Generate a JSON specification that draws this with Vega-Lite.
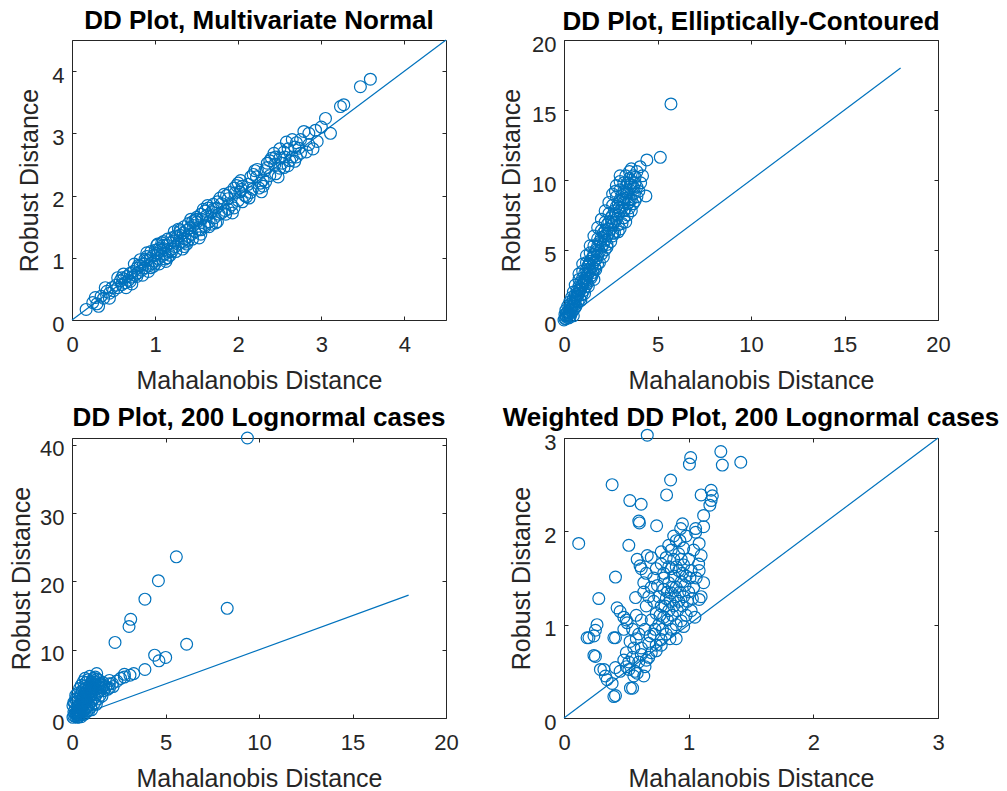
{
"$schema": "https://vega.github.io/schema/vega-lite/v6.json",
"background": "white",
"padding": {"left": 8, "top": 7, "right": 0, "bottom": 0},
"config": {
 "view": {"stroke": "#262626", "strokeWidth": 1},
 "font": "Liberation Sans",
 "axis": {"grid": false, "domain": false, "tickSize": -4, "tickColor": "#262626", "tickWidth": 1,
   "labelFont": "Liberation Sans", "labelFontSize": 22, "labelColor": "#262626", "labelFlush": false, "labelOverlap": false,
   "titleFont": "Liberation Sans", "titleFontSize": 25, "titleFontWeight": "normal", "titleColor": "#262626"},
 "axisBottom": {"labelPadding": 35, "labelBaseline": "alphabetic", "titleY": 68, "titleBaseline": "alphabetic"},
 "axisLeft": {"labelPadding": 12, "labelOffset": 4, "titleBaseline": "alphabetic", "titleAngle": -90},
 "title": {"fontSize": 26, "fontWeight": "bold", "color": "#000000", "font": "Liberation Sans", "frame": "group", "baseline": "alphabetic", "anchor": "middle"}
},
"datasets": {
 "p1": [
  {"x":0.17,"y":0.17},{"x":0.25,"y":0.28},{"x":0.3,"y":0.26},{"x":0.35,"y":0.38},{"x":0.38,"y":0.35},{"x":0.42,"y":0.46},{"x":0.45,"y":0.43},{"x":0.48,"y":0.52},{"x":0.5,"y":0.47},{"x":0.53,"y":0.56},{"x":0.55,"y":0.52},{"x":0.58,"y":0.63},{"x":0.6,"y":0.57},{"x":0.62,"y":0.66},{"x":0.64,"y":0.6},{"x":0.66,"y":0.7},{"x":0.68,"y":0.64},{"x":0.7,"y":0.75},{"x":0.72,"y":0.69},{"x":0.74,"y":0.78},{"x":0.76,"y":0.72},{"x":0.78,"y":0.83},{"x":0.8,"y":0.76},{"x":0.82,"y":0.87},{"x":0.84,"y":0.8},{"x":0.86,"y":0.9},{"x":0.88,"y":0.84},{"x":0.9,"y":0.96},{"x":0.92,"y":0.87},{"x":0.94,"y":0.99},{"x":0.96,"y":0.91},{"x":0.98,"y":1.04},{"x":1.0,"y":0.95},{"x":1.02,"y":1.07},{"x":1.04,"y":0.99},{"x":1.06,"y":1.12},{"x":1.08,"y":1.03},{"x":1.1,"y":1.15},{"x":1.12,"y":1.06},{"x":1.14,"y":1.2},{"x":1.16,"y":1.1},{"x":1.18,"y":1.24},{"x":1.2,"y":1.14},{"x":1.22,"y":1.27},{"x":1.24,"y":1.18},{"x":1.26,"y":1.32},{"x":1.28,"y":1.22},{"x":1.3,"y":1.36},{"x":1.32,"y":1.26},{"x":1.34,"y":1.4},{"x":1.36,"y":1.3},{"x":1.38,"y":1.44},{"x":1.4,"y":1.34},{"x":1.42,"y":1.48},{"x":1.44,"y":1.38},{"x":1.46,"y":1.52},{"x":1.48,"y":1.42},{"x":1.5,"y":1.57},{"x":1.53,"y":1.46},{"x":1.56,"y":1.62},{"x":1.59,"y":1.52},{"x":1.62,"y":1.68},{"x":1.65,"y":1.58},{"x":1.68,"y":1.74},{"x":1.71,"y":1.64},{"x":1.74,"y":1.8},{"x":1.77,"y":1.7},{"x":1.8,"y":1.87},{"x":1.84,"y":1.76},{"x":1.88,"y":1.95},{"x":1.92,"y":1.85},{"x":1.96,"y":2.04},{"x":2.0,"y":1.92},{"x":2.04,"y":2.1},{"x":2.08,"y":2.0},{"x":2.12,"y":2.18},{"x":2.17,"y":2.1},{"x":2.22,"y":2.3},{"x":2.27,"y":2.2},{"x":2.32,"y":2.4},{"x":2.38,"y":2.32},{"x":2.44,"y":2.5},{"x":2.5,"y":2.44},{"x":2.56,"y":2.62},{"x":2.62,"y":2.56},{"x":2.68,"y":2.78},{"x":2.75,"y":2.68},{"x":2.79,"y":3.03},{"x":2.93,"y":3.05},{"x":2.95,"y":2.87},{"x":3.05,"y":3.24},{"x":3.11,"y":3.0},{"x":3.23,"y":3.43},{"x":3.27,"y":3.46},{"x":3.47,"y":3.75},{"x":3.59,"y":3.87},
  {"x":0.9,"y":1.02},{"x":1.0,"y":0.9},{"x":1.1,"y":1.2},{"x":1.2,"y":1.1},{"x":1.3,"y":1.42},{"x":1.4,"y":1.28},{"x":1.5,"y":1.62},{"x":1.6,"y":1.5},{"x":1.7,"y":1.78},{"x":1.8,"y":1.72},{"x":2.05,"y":2.15},{"x":2.15,"y":2.05},{"x":2.5,"y":2.6},{"x":2.6,"y":2.75},{"x":2.65,"y":2.62},{"x":2.7,"y":2.85},{"x":2.55,"y":2.45},{"x":0.7,"y":0.62},{"x":0.8,"y":0.88},{"x":0.6,"y":0.68},{"x":1.25,"y":1.35},{"x":1.35,"y":1.25},{"x":1.45,"y":1.58},{"x":1.55,"y":1.45},{"x":0.95,"y":0.84},{"x":1.05,"y":1.15},{"x":2.3,"y":2.25},{"x":2.35,"y":2.45},{"x":2.85,"y":2.82},{"x":2.45,"y":2.35},
  {"x":0.55,"y":0.68},{"x":0.65,"y":0.52},{"x":0.75,"y":0.9},{"x":0.85,"y":0.72},{"x":0.95,"y":1.1},{"x":1.05,"y":0.9},{"x":1.15,"y":1.3},{"x":1.25,"y":1.1},{"x":1.35,"y":1.5},{"x":1.45,"y":1.3},{"x":1.55,"y":1.7},{"x":1.65,"y":1.5},{"x":1.75,"y":1.9},{"x":1.85,"y":1.7},{"x":1.95,"y":2.12},{"x":2.05,"y":1.9},{"x":2.15,"y":2.3},{"x":2.25,"y":2.12},{"x":2.35,"y":2.52},{"x":2.45,"y":2.62},{"x":2.55,"y":2.7},{"x":2.6,"y":2.48},{"x":2.7,"y":2.62},{"x":2.75,"y":2.9},{"x":2.82,"y":2.7},{"x":2.65,"y":2.9},{"x":2.5,"y":2.75},{"x":2.4,"y":2.6},{"x":2.2,"y":2.4},{"x":2.0,"y":2.2},{"x":1.9,"y":2.05},{"x":1.7,"y":1.86},{"x":1.6,"y":1.75},{"x":1.5,"y":1.65},{"x":1.4,"y":1.55},{"x":1.3,"y":1.45},{"x":1.2,"y":1.32},{"x":1.1,"y":1.26},{"x":1.0,"y":1.12},{"x":0.9,"y":1.08},{"x":1.15,"y":1.0},{"x":1.35,"y":1.18},{"x":1.55,"y":1.38},{"x":1.75,"y":1.58},{"x":1.95,"y":1.8},{"x":2.1,"y":1.98},{"x":2.3,"y":2.15},{"x":0.4,"y":0.52},{"x":0.45,"y":0.35},{"x":0.28,"y":0.36},{"x":0.32,"y":0.22},{"x":2.85,"y":3.0},{"x":2.9,"y":2.75},{"x":3.0,"y":3.1},{"x":1.02,"y":1.2},{"x":1.12,"y":0.98},{"x":1.64,"y":1.8},{"x":1.86,"y":2.0},{"x":2.02,"y":2.06},{"x":1.48,"y":1.6},
  {"x":0.62,"y":0.74},{"x":0.72,"y":0.58},{"x":0.82,"y":0.97},{"x":0.92,"y":0.78},{"x":1.03,"y":1.22},{"x":1.13,"y":0.94},{"x":1.23,"y":1.42},{"x":1.33,"y":1.14},{"x":1.43,"y":1.62},{"x":1.53,"y":1.32},{"x":1.63,"y":1.84},{"x":1.73,"y":1.56},{"x":1.83,"y":2.02},{"x":1.93,"y":1.72},{"x":2.03,"y":2.24},{"x":2.13,"y":1.96},{"x":2.23,"y":2.42},{"x":2.33,"y":2.22},{"x":2.43,"y":2.68},{"x":2.53,"y":2.52},{"x":2.58,"y":2.86},{"x":2.68,"y":2.55},{"x":2.73,"y":2.76},{"x":0.78,"y":0.7},{"x":0.88,"y":0.98},{"x":0.98,"y":0.86},{"x":1.08,"y":1.24},{"x":1.18,"y":1.04},{"x":1.28,"y":1.46},{"x":1.38,"y":1.22},{"x":1.58,"y":1.78},{"x":1.68,"y":1.54},{"x":1.78,"y":1.96},{"x":1.88,"y":1.78},{"x":1.98,"y":2.16},{"x":2.18,"y":2.34},{"x":2.28,"y":2.06},{"x":2.38,"y":2.56},{"x":2.48,"y":2.3}
 ],
 "p2": [
  {"x":0.0,"y":0.0},{"x":0.05,"y":0.1},{"x":0.1,"y":0.3},{"x":0.1,"y":0.1},{"x":0.15,"y":0.2},{"x":0.15,"y":0.5},{"x":0.2,"y":0.6},{"x":0.2,"y":0.3},{"x":0.25,"y":0.4},{"x":0.25,"y":0.15},{"x":0.3,"y":0.9},{"x":0.3,"y":0.5},{"x":0.35,"y":0.7},{"x":0.35,"y":0.3},{"x":0.4,"y":1.2},{"x":0.4,"y":0.8},{"x":0.45,"y":1.0},{"x":0.45,"y":0.6},{"x":0.5,"y":1.5},{"x":0.5,"y":1.1},{"x":0.55,"y":1.3},{"x":0.55,"y":0.8},{"x":0.6,"y":1.8},{"x":0.6,"y":1.4},{"x":0.65,"y":1.6},{"x":0.65,"y":1.0},{"x":0.7,"y":2.1},{"x":0.7,"y":1.7},{"x":0.75,"y":1.9},{"x":0.75,"y":1.3},{"x":0.8,"y":2.4},{"x":0.8,"y":1.9},{"x":0.85,"y":2.2},{"x":0.85,"y":1.5},{"x":0.9,"y":2.7},{"x":0.9,"y":2.2},{"x":0.95,"y":2.5},{"x":0.95,"y":1.8},{"x":1.0,"y":3.0},{"x":1.0,"y":2.5},{"x":1.05,"y":2.8},{"x":1.05,"y":2.1},{"x":1.1,"y":3.3},{"x":1.1,"y":2.7},{"x":1.15,"y":3.0},{"x":1.15,"y":2.4},{"x":1.2,"y":3.6},{"x":1.2,"y":3.0},{"x":1.25,"y":3.3},{"x":1.25,"y":2.6},{"x":1.3,"y":3.9},{"x":1.3,"y":3.3},{"x":1.35,"y":3.6},{"x":1.4,"y":4.2},{"x":1.4,"y":3.5},{"x":1.45,"y":3.0},{"x":1.5,"y":4.4},{"x":1.5,"y":3.8},{"x":1.55,"y":3.4},{"x":1.6,"y":4.7},{"x":1.6,"y":4.1},{"x":1.65,"y":3.7},{"x":1.7,"y":5.0},{"x":1.7,"y":4.3},{"x":1.8,"y":5.3},{"x":1.8,"y":4.6},{"x":1.9,"y":5.6},{"x":1.9,"y":4.9},{"x":2.0,"y":5.9},{"x":2.0,"y":5.2},{"x":2.1,"y":6.2},{"x":2.1,"y":5.4},{"x":2.2,"y":6.4},{"x":2.2,"y":5.7},{"x":2.2,"y":5.0},{"x":2.3,"y":6.8},{"x":2.3,"y":6.0},{"x":2.4,"y":7.0},{"x":2.4,"y":6.2},{"x":2.5,"y":7.3},{"x":2.5,"y":6.5},{"x":2.6,"y":7.5},{"x":2.6,"y":6.8},{"x":2.6,"y":6.0},{"x":2.7,"y":7.8},{"x":2.7,"y":7.0},{"x":2.8,"y":8.1},{"x":2.8,"y":7.2},{"x":2.9,"y":8.3},{"x":2.9,"y":7.5},{"x":2.9,"y":6.8},{"x":3.0,"y":8.6},{"x":3.0,"y":7.8},{"x":3.0,"y":6.5},{"x":3.1,"y":8.9},{"x":3.1,"y":8.0},{"x":3.2,"y":9.2},{"x":3.2,"y":8.4},{"x":3.3,"y":9.5},{"x":3.3,"y":8.7},{"x":3.3,"y":7.0},{"x":3.4,"y":9.8},{"x":3.4,"y":9.0},{"x":3.4,"y":7.5},{"x":3.5,"y":10.1},{"x":3.5,"y":9.3},{"x":3.5,"y":8.0},{"x":3.6,"y":9.6},{"x":3.6,"y":7.8},{"x":3.7,"y":10.3},{"x":3.7,"y":9.0},{"x":3.8,"y":9.8},{"x":3.8,"y":8.5},{"x":3.9,"y":10.6},{"x":3.9,"y":8.8},{"x":4.0,"y":9.2},{"x":4.07,"y":10.95},{"x":4.38,"y":8.86},{"x":4.43,"y":11.43},{"x":5.15,"y":11.62},{"x":5.72,"y":15.43},
  {"x":1.5,"y":3.2},{"x":1.7,"y":3.6},{"x":1.9,"y":4.1},{"x":2.1,"y":4.5},{"x":2.3,"y":5.2},{"x":2.5,"y":5.6},{"x":2.7,"y":6.2},{"x":2.9,"y":6.3},{"x":3.1,"y":6.9},{"x":3.2,"y":7.3},{"x":3.4,"y":8.3},{"x":3.6,"y":8.6},{"x":3.7,"y":9.5},{"x":3.8,"y":10.2},{"x":3.2,"y":9.8},{"x":3.0,"y":9.3},{"x":2.8,"y":8.8},{"x":2.6,"y":8.2},{"x":2.4,"y":7.6},{"x":2.2,"y":7.0},{"x":2.0,"y":6.4},{"x":1.8,"y":5.8},{"x":1.6,"y":5.3},{"x":1.4,"y":4.8},{"x":1.2,"y":4.1},{"x":1.0,"y":3.5},{"x":0.8,"y":2.9},{"x":3.3,"y":10.3},{"x":3.5,"y":10.6},{"x":3.6,"y":10.8},{"x":3.0,"y":9.9},{"x":2.75,"y":9.2},{"x":1.1,"y":1.9},{"x":1.3,"y":2.4},{"x":0.9,"y":1.4},{"x":1.6,"y":2.9},{"x":0.3,"y":0.2},{"x":0.5,"y":0.3},{"x":0.6,"y":0.9},{"x":0.2,"y":1.0},{"x":0.1,"y":0.7},{"x":0.4,"y":1.6},{"x":0.05,"y":0.4},{"x":0.3,"y":1.3},
  {"x":1.2,"y":4.6},{"x":1.4,"y":5.3},{"x":1.6,"y":6.0},{"x":1.8,"y":6.6},{"x":2.0,"y":7.2},{"x":2.2,"y":7.8},{"x":2.4,"y":8.4},{"x":2.6,"y":9.0},{"x":2.8,"y":9.6},{"x":1.0,"y":4.0},{"x":0.8,"y":3.3},{"x":0.6,"y":2.5},{"x":0.5,"y":2.0},{"x":3.0,"y":10.3},{"x":2.0,"y":4.7},{"x":2.3,"y":5.4},{"x":2.6,"y":6.2},{"x":3.2,"y":7.8},{"x":3.5,"y":8.6},{"x":3.7,"y":8.3},{"x":3.9,"y":9.5},{"x":4.1,"y":9.8},{"x":4.2,"y":10.3},{"x":1.8,"y":4.0},{"x":1.4,"y":3.1},{"x":1.2,"y":2.7},{"x":1.35,"y":4.0},{"x":1.55,"y":4.5},{"x":1.75,"y":4.9},{"x":1.95,"y":5.5},{"x":2.15,"y":6.0},{"x":2.35,"y":6.5},{"x":2.55,"y":7.0},{"x":2.75,"y":7.6},{"x":2.95,"y":8.0},{"x":3.15,"y":8.6},{"x":3.35,"y":9.1},{"x":3.55,"y":9.7},{"x":3.75,"y":9.4},{"x":3.45,"y":8.4},{"x":3.25,"y":7.9}
 ],
 "p3": [
  {"x":0.05,"y":0.1},{"x":0.1,"y":0.3},{"x":0.05,"y":1.8},{"x":0.15,"y":1.2},{"x":0.2,"y":0.2},{"x":0.2,"y":0.8},{"x":0.25,"y":2.4},{"x":0.3,"y":0.5},{"x":0.3,"y":1.5},{"x":0.35,"y":0.15},{"x":0.4,"y":0.4},{"x":0.4,"y":1.0},{"x":0.4,"y":2.0},{"x":0.45,"y":3.2},{"x":0.5,"y":0.6},{"x":0.5,"y":1.4},{"x":0.5,"y":2.5},{"x":0.55,"y":4.0},{"x":0.6,"y":1.0},{"x":0.6,"y":1.8},{"x":0.6,"y":3.0},{"x":0.65,"y":4.6},{"x":0.7,"y":1.3},{"x":0.7,"y":2.2},{"x":0.7,"y":3.5},{"x":0.75,"y":5.2},{"x":0.8,"y":1.6},{"x":0.8,"y":2.6},{"x":0.8,"y":4.0},{"x":0.85,"y":5.6},{"x":0.9,"y":2.0},{"x":0.9,"y":3.0},{"x":0.9,"y":4.5},{"x":1.0,"y":2.3},{"x":1.0,"y":3.4},{"x":1.0,"y":5.0},{"x":1.1,"y":2.6},{"x":1.1,"y":3.8},{"x":1.2,"y":3.0},{"x":1.2,"y":4.2},{"x":1.32,"y":6.5},{"x":1.3,"y":3.4},{"x":1.4,"y":3.8},{"x":1.4,"y":4.6},{"x":1.5,"y":4.0},{"x":1.6,"y":4.4},{"x":1.7,"y":4.0},{"x":1.8,"y":4.55},{"x":1.9,"y":4.2},{"x":2.0,"y":5.0},{"x":2.16,"y":5.05},{"x":2.4,"y":5.4},{"x":2.6,"y":5.8},{"x":3.1,"y":6.27},{"x":3.9,"y":7.1},{"x":4.42,"y":9.2},{"x":4.65,"y":8.37},{"x":5.01,"y":8.87},{"x":6.13,"y":10.8},{"x":8.3,"y":16.06},{"x":2.3,"y":11.07},{"x":3.05,"y":13.4},{"x":3.14,"y":14.45},{"x":3.9,"y":17.4},{"x":4.62,"y":20.1},{"x":5.58,"y":23.6},{"x":9.38,"y":41},
  {"x":0.15,"y":0.6},{"x":0.25,"y":1.0},{"x":0.35,"y":1.8},{"x":0.45,"y":0.9},{"x":0.55,"y":1.6},{"x":0.65,"y":2.0},{"x":0.75,"y":2.8},{"x":0.85,"y":3.4},{"x":0.95,"y":3.9},{"x":1.05,"y":4.4},{"x":1.15,"y":4.8},{"x":1.25,"y":5.3},{"x":0.3,"y":2.8},{"x":0.2,"y":3.3},{"x":0.5,"y":3.6},{"x":0.35,"y":1.1},{"x":0.6,"y":0.5},{"x":0.8,"y":1.0},{"x":1.0,"y":1.6},{"x":1.2,"y":2.2},{"x":1.4,"y":2.8},{"x":1.6,"y":3.2},{"x":1.3,"y":4.9},{"x":1.5,"y":5.1},{"x":1.1,"y":5.6},{"x":0.95,"y":6.1},{"x":2.2,"y":4.6},{"x":2.8,"y":6.0},{"x":0.1,"y":0.9},{"x":0.15,"y":2.2},
  {"x":0.25,"y":0.5},{"x":0.35,"y":0.7},{"x":0.45,"y":1.3},{"x":0.55,"y":2.1},{"x":0.65,"y":2.7},{"x":0.75,"y":3.2},{"x":0.85,"y":4.2},{"x":0.95,"y":4.7},{"x":1.05,"y":5.3},{"x":1.15,"y":5.8},{"x":1.25,"y":6.0},{"x":1.35,"y":5.7},{"x":1.45,"y":5.5},{"x":1.55,"y":4.9},{"x":1.65,"y":5.2},{"x":0.3,"y":3.6},{"x":0.4,"y":4.3},{"x":0.5,"y":4.8},{"x":0.6,"y":5.3},{"x":0.7,"y":5.8},{"x":0.2,"y":2.8},{"x":0.1,"y":2.3},{"x":0.45,"y":1.9},{"x":0.55,"y":2.9},{"x":0.65,"y":3.6},{"x":0.75,"y":4.4},{"x":1.1,"y":4.3},{"x":1.2,"y":5.0},{"x":1.0,"y":4.0},{"x":0.9,"y":3.6},{"x":1.3,"y":4.2},{"x":1.5,"y":4.5},{"x":1.7,"y":4.8},{"x":2.0,"y":4.4},{"x":1.05,"y":1.2},{"x":1.3,"y":2.0},{"x":1.5,"y":3.3},{"x":0.3,"y":0.1},{"x":0.5,"y":0.2},{"x":0.7,"y":0.6},{"x":0.9,"y":1.1},{"x":3.3,"y":6.5},{"x":2.0,"y":5.5},{"x":2.8,"y":6.4}
 ],
 "p4": [
  {"x":0.668,"y":3.03},{"x":1.016,"y":2.79},{"x":1.006,"y":2.72},{"x":1.258,"y":2.855},{"x":1.27,"y":2.71},{"x":1.418,"y":2.74},{"x":0.386,"y":2.5},{"x":0.855,"y":2.55},{"x":0.823,"y":2.39},{"x":0.528,"y":2.33},{"x":0.619,"y":2.29},{"x":1.1,"y":2.39},{"x":1.18,"y":2.44},{"x":1.19,"y":2.38},{"x":1.18,"y":2.33},{"x":1.17,"y":2.28},{"x":1.12,"y":2.17},{"x":0.6,"y":2.11},{"x":0.605,"y":2.09},{"x":0.743,"y":2.06},{"x":0.95,"y":2.08},{"x":0.936,"y":2.03},{"x":1.056,"y":2.03},{"x":1.12,"y":2.05},{"x":0.118,"y":1.87},{"x":0.52,"y":1.85},{"x":0.413,"y":1.51},{"x":0.279,"y":1.28},{"x":0.426,"y":1.18},{"x":0.265,"y":1.0},{"x":0.252,"y":0.94},{"x":0.185,"y":0.86},{"x":0.252,"y":0.66},{"x":0.413,"y":0.86},{"x":0.292,"y":0.52},{"x":0.332,"y":0.45},{"x":0.413,"y":0.54},{"x":0.386,"y":0.37},{"x":0.533,"y":0.32},{"x":0.413,"y":0.24},{"x":0.587,"y":0.48},{"x":0.64,"y":0.45},{"x":0.574,"y":1.29},{"x":0.64,"y":1.45},{"x":0.61,"y":1.63},{"x":0.587,"y":1.7},{"x":0.668,"y":1.74},{"x":1.084,"y":1.58},{"x":1.084,"y":1.27},{"x":1.1,"y":1.74},{"x":1.084,"y":1.87},{"x":1.056,"y":1.99},
  {"x":0.45,"y":1.14},{"x":0.48,"y":1.08},{"x":0.507,"y":1.02},{"x":0.24,"y":0.88},{"x":0.2,"y":0.86},{"x":0.4,"y":0.86},{"x":0.24,"y":0.67},{"x":0.32,"y":0.52},{"x":0.346,"y":0.41},{"x":0.52,"y":0.52},{"x":0.56,"y":0.45},{"x":0.4,"y":0.23},{"x":0.55,"y":0.32},
  {"x":0.62,"y":1.6},{"x":0.7,"y":1.72},{"x":0.78,"y":1.78},{"x":0.66,"y":1.55},
  {"x":0.66,"y":0.62},{"x":0.7,"y":0.7},{"x":0.74,"y":0.78},{"x":0.78,"y":0.84},{"x":0.82,"y":0.9},{"x":0.86,"y":0.95},{"x":0.9,"y":1.0},{"x":0.94,"y":1.04},{"x":0.98,"y":1.1},{"x":1.02,"y":1.15},{"x":0.68,"y":0.8},{"x":0.72,"y":0.9},{"x":0.76,"y":1.0},{"x":0.8,"y":1.08},{"x":0.84,"y":1.15},{"x":0.88,"y":1.2},{"x":0.92,"y":1.25},{"x":0.96,"y":1.3},{"x":1.0,"y":1.35},{"x":1.04,"y":1.4},{"x":0.7,"y":1.05},{"x":0.74,"y":1.12},{"x":0.78,"y":1.2},{"x":0.82,"y":1.28},{"x":0.86,"y":1.34},{"x":0.9,"y":1.4},{"x":0.94,"y":1.46},{"x":0.98,"y":1.52},{"x":1.02,"y":1.58},{"x":0.76,"y":1.3},{"x":0.8,"y":1.38},{"x":0.84,"y":1.45},{"x":0.88,"y":1.52},{"x":0.92,"y":1.58},{"x":0.96,"y":1.64},{"x":1.0,"y":1.7},{"x":0.8,"y":1.55},{"x":0.84,"y":1.62},{"x":0.88,"y":1.7},{"x":0.92,"y":1.76},{"x":0.96,"y":1.82},{"x":0.86,"y":1.8},{"x":0.9,"y":1.9},{"x":0.82,"y":1.72},{"x":0.78,"y":1.65},{"x":0.72,"y":1.5},{"x":0.66,"y":1.2},{"x":0.62,"y":1.05},{"x":0.6,"y":0.9},{"x":0.56,"y":0.75},{"x":0.52,"y":0.6},{"x":0.5,"y":0.55},{"x":0.48,"y":0.62},{"x":0.55,"y":0.95},{"x":0.58,"y":1.1},{"x":0.62,"y":0.75},{"x":0.65,"y":0.95},{"x":0.68,"y":1.3},{"x":0.72,"y":1.25},{"x":0.75,"y":1.42},{"x":0.79,"y":0.95},{"x":0.83,"y":1.05},{"x":0.87,"y":1.1},{"x":0.91,"y":1.15},{"x":0.95,"y":1.2},{"x":0.99,"y":1.25},{"x":1.03,"y":1.28},{"x":1.06,"y":1.5},{"x":1.08,"y":1.65},{"x":0.85,"y":1.25},{"x":0.87,"y":1.4},{"x":0.89,"y":1.3},{"x":0.81,"y":1.2},{"x":0.83,"y":1.35},{"x":0.77,"y":1.1},{"x":0.73,"y":0.95},{"x":0.69,"y":0.88},{"x":0.93,"y":1.35},{"x":0.97,"y":1.42},{"x":1.01,"y":1.5},{"x":0.95,"y":1.55},{"x":0.9,"y":1.62},{"x":0.86,"y":1.6},{"x":0.8,"y":1.5},{"x":0.74,"y":1.6},{"x":0.7,"y":1.4},{"x":0.64,"y":1.35},{"x":0.98,"y":1.95},{"x":0.93,"y":1.9},{"x":0.88,"y":1.95},{"x":0.84,"y":1.85},{"x":0.94,"y":1.7},{"x":1.04,"y":1.8},{"x":0.9,"y":0.85},{"x":0.85,"y":0.85},{"x":0.78,"y":0.78},{"x":0.74,"y":0.72},{"x":0.96,"y":0.98},{"x":1.05,"y":1.08},{"x":1.1,"y":1.3},{"x":1.12,"y":1.45},{"x":0.6,"y":0.6},{"x":0.57,"y":0.5},{"x":0.65,"y":0.55},{"x":0.68,"y":0.65},{"x":0.62,"y":0.68},{"x":0.55,"y":0.65},{"x":0.45,"y":0.5},{"x":0.5,"y":0.7},{"x":0.53,"y":0.82},{"x":0.58,"y":0.85},{"x":0.48,"y":0.95},{"x":0.5,"y":1.05}
 ],
 "l1": [{"x":0,"y":0},{"x":4.5,"y":4.5}],
 "l2": [{"x":0,"y":0},{"x":18,"y":18}],
 "l3": [{"x":0,"y":0},{"x":18,"y":18}],
 "l4": [{"x":0,"y":0},{"x":3,"y":3}]
},
"columns": 2,
"spacing": 118,
"bounds": "flush",
"concat": [
 {
  "title": {"text": "DD Plot, Multivariate Normal", "offset": 4},
  "width": 374, "height": 280,
  "layer": [
   {"data": {"name": "p1"}, "mark": {"type": "point", "shape": "circle", "size": 140, "strokeWidth": 1.2, "color": "#0072BD", "filled": false, "opacity": 1},
    "encoding": {
     "x": {"field": "x", "type": "quantitative", "scale": {"domain": [0, 4.5], "nice": false}, "axis": {"values": [0,1,2,3,4], "title": "Mahalanobis Distance"}},
     "y": {"field": "y", "type": "quantitative", "scale": {"domain": [0, 4.5], "nice": false}, "axis": {"values": [0,1,2,3,4], "title": "Robust Distance", "titleX": -35}}}},
   {"data": {"name": "l1"}, "mark": {"type": "line", "color": "#0072BD", "strokeWidth": 1.2},
    "encoding": {
     "x": {"field": "x", "type": "quantitative", "scale": {"domain": [0, 4.5], "nice": false}, "axis": {"orient": "top", "labels": false, "title": null, "values": [0,1,2,3,4]}},
     "y": {"field": "y", "type": "quantitative", "scale": {"domain": [0, 4.5], "nice": false}, "axis": {"orient": "right", "labels": false, "title": null, "values": [0,1,2,3,4]}}}}
  ],
  "resolve": {"axis": {"x": "independent", "y": "independent"}}
 },
 {
  "title": {"text": "DD Plot, Elliptically-Contoured", "offset": -2},
  "width": 374, "height": 280,
  "layer": [
   {"data": {"name": "p2"}, "mark": {"type": "point", "shape": "circle", "size": 140, "strokeWidth": 1.2, "color": "#0072BD", "filled": false, "opacity": 1},
    "encoding": {
     "x": {"field": "x", "type": "quantitative", "scale": {"domain": [0, 20], "nice": false}, "axis": {"values": [0,5,10,15,20], "title": "Mahalanobis Distance"}},
     "y": {"field": "y", "type": "quantitative", "scale": {"domain": [0, 20], "nice": false}, "axis": {"values": [0,5,10,15,20], "title": "Robust Distance", "titleX": -45}}}},
   {"data": {"name": "l2"}, "mark": {"type": "line", "color": "#0072BD", "strokeWidth": 1.2},
    "encoding": {
     "x": {"field": "x", "type": "quantitative", "scale": {"domain": [0, 20], "nice": false}, "axis": {"orient": "top", "labels": false, "title": null, "values": [0,5,10,15,20]}},
     "y": {"field": "y", "type": "quantitative", "scale": {"domain": [0, 20], "nice": false}, "axis": {"orient": "right", "labels": false, "title": null, "values": [0,5,10,15,20]}}}}
  ],
  "resolve": {"axis": {"x": "independent", "y": "independent"}}
 },
 {
  "title": {"text": "DD Plot, 200 Lognormal cases", "offset": -1},
  "width": 374, "height": 280,
  "layer": [
   {"data": {"name": "p3"}, "mark": {"type": "point", "shape": "circle", "size": 140, "strokeWidth": 1.2, "color": "#0072BD", "filled": false, "opacity": 1},
    "encoding": {
     "x": {"field": "x", "type": "quantitative", "scale": {"domain": [0, 20], "nice": false}, "axis": {"values": [0,5,10,15,20], "title": "Mahalanobis Distance"}},
     "y": {"field": "y", "type": "quantitative", "scale": {"domain": [0, 41], "nice": false}, "axis": {"values": [0,10,20,30,40], "title": "Robust Distance", "titleX": -43}}}},
   {"data": {"name": "l3"}, "mark": {"type": "line", "color": "#0072BD", "strokeWidth": 1.2},
    "encoding": {
     "x": {"field": "x", "type": "quantitative", "scale": {"domain": [0, 20], "nice": false}, "axis": {"orient": "top", "labels": false, "title": null, "values": [0,5,10,15,20]}},
     "y": {"field": "y", "type": "quantitative", "scale": {"domain": [0, 41], "nice": false}, "axis": {"orient": "right", "labels": false, "title": null, "values": [0,10,20,30,40]}}}}
  ],
  "resolve": {"axis": {"x": "independent", "y": "independent"}}
 },
 {
  "title": {"text": "Weighted DD Plot, 200 Lognormal cases", "offset": -4},
  "width": 374, "height": 280,
  "layer": [
   {"data": {"name": "p4"}, "mark": {"type": "point", "shape": "circle", "size": 140, "strokeWidth": 1.2, "color": "#0072BD", "filled": false, "opacity": 1},
    "encoding": {
     "x": {"field": "x", "type": "quantitative", "scale": {"domain": [0, 3], "nice": false}, "axis": {"values": [0,1,2,3], "title": "Mahalanobis Distance"}},
     "y": {"field": "y", "type": "quantitative", "scale": {"domain": [0, 3], "nice": false}, "axis": {"values": [0,1,2,3], "title": "Robust Distance", "titleX": -35}}}},
   {"data": {"name": "l4"}, "mark": {"type": "line", "color": "#0072BD", "strokeWidth": 1.2},
    "encoding": {
     "x": {"field": "x", "type": "quantitative", "scale": {"domain": [0, 3], "nice": false}, "axis": {"orient": "top", "labels": false, "title": null, "values": [0,1,2,3]}},
     "y": {"field": "y", "type": "quantitative", "scale": {"domain": [0, 3], "nice": false}, "axis": {"orient": "right", "labels": false, "title": null, "values": [0,1,2,3]}}}}
  ],
  "resolve": {"axis": {"x": "independent", "y": "independent"}}
 }
]
}
